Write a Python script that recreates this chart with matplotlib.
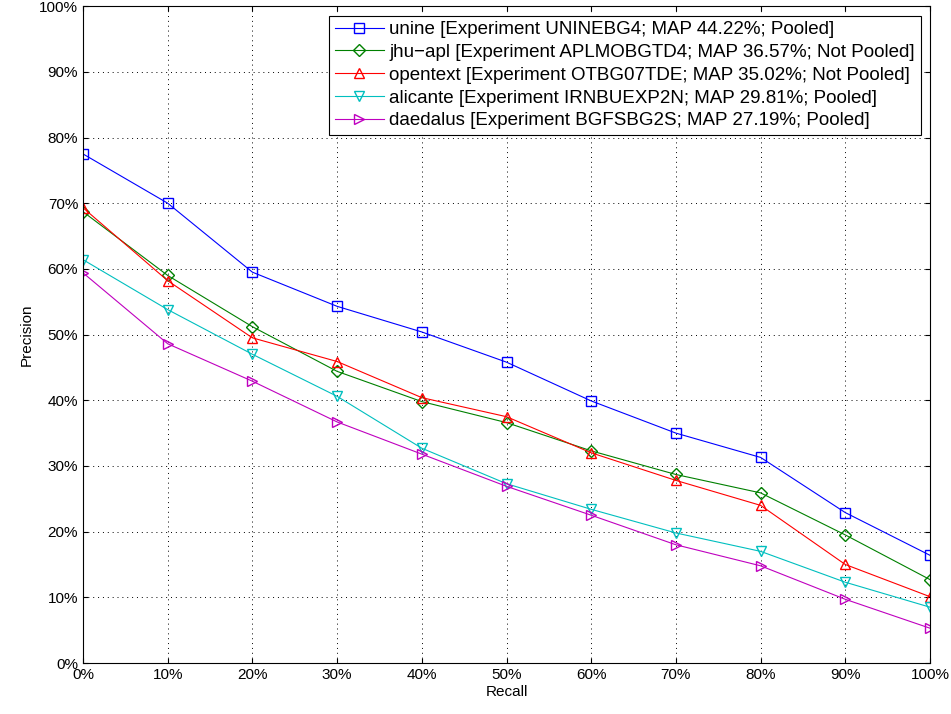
import matplotlib
matplotlib.use('Agg')
import matplotlib.pyplot as plt
from matplotlib.ticker import FuncFormatter

plt.rcParams['font.family'] = ['Liberation Sans', 'DejaVu Sans']
plt.rcParams['font.size'] = 10

# --- data (precision in %) ---
recall = [0, 10, 20, 30, 40, 50, 60, 70, 80, 90, 100]
unine = [77.5, 70.0, 59.5, 54.3, 50.4, 45.8, 39.9, 35.0, 31.3, 22.9, 16.4]
jhu_apl = [68.7, 59.0, 51.2, 44.4, 39.8, 36.6, 32.3, 28.7, 25.9, 19.5, 12.7]
opentext = [69.3, 58.2, 49.5, 45.9, 40.4, 37.5, 32.0, 27.8, 24.0, 15.0, 10.1]
alicante = [61.4, 53.8, 47.0, 40.6, 32.7, 27.3, 23.4, 19.8, 17.0, 12.3, 8.5]
daedalus = [59.4, 48.6, 42.9, 36.7, 31.8, 26.9, 22.5, 18.0, 14.8, 9.7, 5.3]

labels = [
    "unine [Experiment UNINEBG4; MAP 44.22%; Pooled]",
    "jhu\u2212apl [Experiment APLMOBGTD4; MAP 36.57%; Not Pooled]",
    "opentext [Experiment OTBG07TDE; MAP 35.02%; Not Pooled]",
    "alicante [Experiment IRNBUEXP2N; MAP 29.81%; Pooled]",
    "daedalus [Experiment BGFSBG2S; MAP 27.19%; Pooled]",
]
series = [unine, jhu_apl, opentext, alicante, daedalus]
colors = ['#0000ff', '#008000', '#ff0000', '#00bfbf', '#bf00bf']
markers = ['s', 'D', '^', 'v', '>']

fig = plt.figure(figsize=(9.51, 7.14), dpi=100)
ax = fig.add_axes([0.0873, 0.0714, 0.8906, 0.920])

for ys, lab, c, m in zip(series, labels, colors, markers):
    ms = 6 if m == 'D' else 7
    ax.plot(recall, ys, color=c, marker=m, markerfacecolor='none',
            markeredgecolor=c, markersize=ms, linewidth=0.8, label=lab)

ax.set_xlim(0, 100)
ax.set_ylim(0, 100)
ax.set_xticks(range(0, 101, 10))
ax.set_yticks(range(0, 101, 10))
pct = FuncFormatter(lambda v, p: f"{int(v)}%")
ax.xaxis.set_major_formatter(pct)
ax.yaxis.set_major_formatter(pct)
ax.grid(True, linestyle=(0, (1, 4)), color='black', linewidth=0.7)
ax.tick_params(direction='in', top=True, right=True, labelsize=11)
ax.set_xlabel("Recall", fontsize=11, labelpad=2)
ax.set_ylabel("Precision", fontsize=11)

leg = ax.legend(loc='upper right', fontsize=13.5, fancybox=False,
                edgecolor='black', framealpha=1, borderaxespad=0.5,
                handlelength=2.6, handletextpad=0.3, labelspacing=0.3,
                borderpad=0.3)
leg.get_frame().set_linewidth(0.8)

fig.savefig("out.png", dpi=100)
